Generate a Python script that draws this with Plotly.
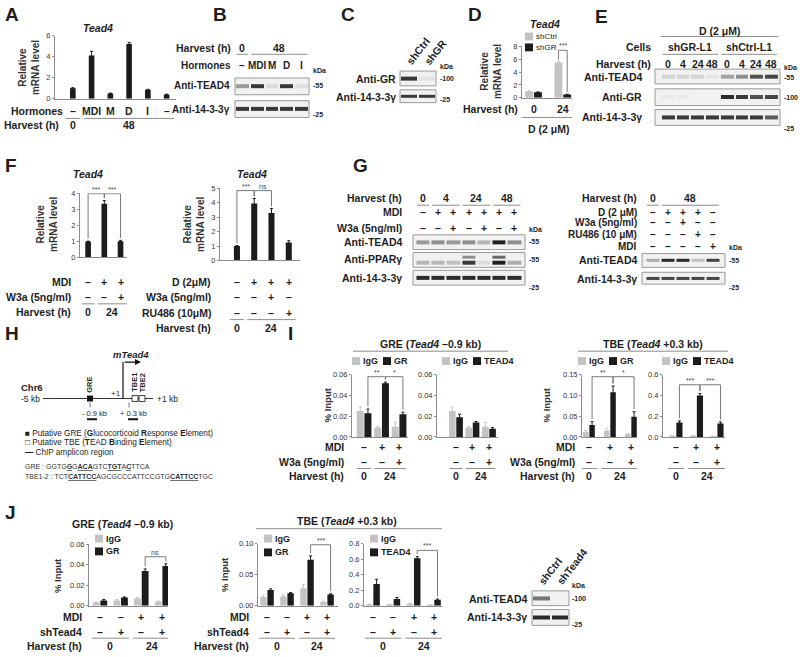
import plotly.graph_objects as go

W, H = 800, 657
FONT = "Arial, Liberation Sans, sans-serif"
INK = "#1e1e1e"
GREY = "#c3c3c3"
BLACK = "#1c1c1c"
AXIS = "#8c8c8c"
BLOT_SCALE = [[0, "#f1f1f1"], [0.45, "#9a9a9a"], [1, "#141414"]]
LBL = 10.5

# ---------------- data ----------------
# A: Tead4 mRNA after hormones
a_hormones = ["–", "MDI", "M", "D", "I", "–"]
a_harvest = ["0", "48", "48", "48", "48", "48"]
a_tead4 = [1.0, 4.1, 0.5, 5.2, 0.85, 0.4]
a_tead4_err = [0.05, 0.4, 0.03, 0.15, 0.04, 0.03]

# B: blot
b_harvest = ["0", "48", "48", "48", "48"]
b_hormones = ["–", "MDI", "M", "D", "I"]
b_tead4 = [0.45, 0.85, 0.12, 0.85, 0.1]
b_1433 = [0.85, 0.85, 0.85, 0.85, 0.85]

# C: blot
c_lanes = ["shCtrl", "shGR"]
c_gr = [0.85, 0.08]
c_1433 = [0.85, 0.85]

# D: Tead4 mRNA shCtrl / shGR
d_harvest = ["0", "24"]
d_treat = ["D (2 μM)", "D (2 μM)"]
d_shctrl = [1.0, 5.5]
d_shctrl_err = [0.08, 0.12]
d_shgr = [0.85, 0.5]
d_shgr_err = [0.05, 0.04]

# E: blot
e_cells = ["shGR-L1"] * 4 + ["shCtrl-L1"] * 4
e_harvest = ["0", "4", "24", "48", "0", "4", "24", "48"]
e_tead4 = [0.15, 0.15, 0.15, 0.06, 0.4, 0.5, 0.75, 0.8]
e_gr = [0.04, 0.04, 0.0, 0.0, 0.9, 0.85, 0.75, 0.8]
e_1433 = [0.85, 0.85, 0.85, 0.85, 0.85, 0.85, 0.85, 0.7]

# F
f1_mdi = ["–", "+", "+"]
f1_w3a = ["–", "–", "+"]
f1_harvest = ["0", "24", "24"]
f1_tead4 = [1.0, 3.35, 1.02]
f1_tead4_err = [0.02, 0.2, 0.05]
f1_sig = [(0, 1, "***"), (1, 2, "***")]
f2_d = ["–", "+", "+", "+"]
f2_w3a = ["–", "–", "+", "–"]
f2_ru486 = ["–", "–", "–", "+"]
f2_harvest = ["0", "24", "24", "24"]
f2_tead4 = [1.0, 3.95, 3.3, 1.25]
f2_tead4_err = [0.03, 0.35, 0.3, 0.12]
f2_sig = [(0, 1, "***"), (1, 2, "ns")]

# G
g1_harvest = ["0", "4", "4", "24", "24", "48", "48"]
g1_mdi = ["–", "+", "+", "+", "+", "+", "+"]
g1_w3a = ["–", "–", "+", "–", "+", "–", "+"]
g1_tead4 = [0.45, 0.5, 0.45, 0.5, 0.3, 0.95, 0.5]
g1_ppar = [0.3, 0.3, 0.25, 0.85, 0.1, 0.95, 0.35]
g1_ppar_upper = [0.0, 0.0, 0.0, 0.5, 0.0, 0.65, 0.0]
g1_1433 = [0.9, 0.9, 0.9, 0.9, 0.9, 0.9, 0.9]
g2_harvest = ["0", "48", "48", "48", "48"]
g2_d = ["–", "+", "+", "+", "–"]
g2_w3a = ["–", "–", "+", "–", "–"]
g2_ru486 = ["–", "–", "–", "+", "–"]
g2_mdi = ["–", "–", "–", "–", "+"]
g2_tead4 = [0.35, 0.9, 0.9, 0.25, 0.8]
g2_1433 = [0.8, 0.8, 0.8, 0.8, 0.8]

# I: ChIP
i_mdi = ["–", "+", "+"]
i_w3a = ["–", "–", "+"]
i_harvest = ["0", "24", "24"]
i_gre_igg = [0.025, 0.009, 0.010]
i_gre_igg_err = [0.004, 0.001, 0.004]
i_gre_gr = [0.023, 0.052, 0.022]
i_gre_gr_err = [0.004, 0.001, 0.002]
i_gre_igg2 = [0.025, 0.009, 0.010]
i_gre_igg2_err = [0.004, 0.001, 0.004]
i_gre_tead4 = [0.019, 0.014, 0.008]
i_gre_tead4_err = [0.003, 0.001, 0.001]
i_tbe_igg = [0.012, 0.015, 0.007]
i_tbe_igg_err = [0.003, 0.006, 0.001]
i_tbe_gr = [0.029, 0.108, 0.049]
i_tbe_gr_err = [0.008, 0.015, 0.012]
i_tbe_igg2 = [0.008, 0.010, 0.004]
i_tbe_igg2_err = [0.002, 0.003, 0.001]
i_tbe_tead4 = [0.14, 0.40, 0.13]
i_tbe_tead4_err = [0.015, 0.02, 0.015]
i_gr_sig = [(0, 1, "**"), (1, 2, "*")]
i_tead4_sig = [(0, 1, "***"), (1, 2, "***")]

# J: ChIP with shTead4
j_mdi = ["–", "–", "+", "+"]
j_sh = ["–", "+", "–", "+"]
j_harvest = ["0", "0", "24", "24"]
j_gre_igg = [0.003, 0.005, 0.007, 0.004]
j_gre_igg_err = [0.0005, 0.001, 0.001, 0.0005]
j_gre_gr = [0.005, 0.008, 0.034, 0.039]
j_gre_gr_err = [0.001, 0.0005, 0.002, 0.002]
j_tbe_igg = [0.014, 0.015, 0.028, 0.006]
j_tbe_igg_err = [0.003, 0.002, 0.006, 0.001]
j_tbe_gr = [0.025, 0.020, 0.074, 0.018]
j_tbe_gr_err = [0.002, 0.001, 0.006, 0.001]
j_tbe_igg2 = [0.015, 0.015, 0.025, 0.005]
j_tbe_igg2_err = [0.004, 0.003, 0.006, 0.001]
j_tbe_tead4 = [0.28, 0.085, 0.61, 0.075]
j_tbe_tead4_err = [0.06, 0.02, 0.02, 0.01]
j_gre_sig = [(2, 3, "ns")]
j_tbe_sig = [(2, 3, "***")]
j_lanes = ["shCtrl", "shTead4"]
j_tead4 = [0.6, 0.0]
j_1433 = [0.9, 0.9]

# ---------------- helpers ----------------
fig = go.Figure()
lay = {}
notes = []
shapes = []


def X(p):
    return p / W


def Y(p):
    return 1 - p / H


def ref(n):
    return ("x" if n == 1 else f"x{n}"), ("y" if n == 1 else f"y{n}")


def keys(n):
    s = "" if n == 1 else str(n)
    return "xaxis" + s, "yaxis" + s


def text(x, y, s, size=LBL, anchor="center", color=INK, angle=0, xref="paper", yanchor="middle"):
    notes.append(dict(
        x=X(x) if xref == "paper" else x, xref=xref, y=Y(y), yref="paper",
        text=s, showarrow=False, textangle=angle, borderpad=0,
        font=dict(family=FONT, size=size, color=color),
        xanchor=anchor, yanchor=yanchor,
    ))


def pline(x0, y0, x1, y1, color=INK, width=1):
    shapes.append(dict(type="line", xref="paper", yref="paper",
                       x0=X(x0), x1=X(x1), y0=Y(y0), y1=Y(y1),
                       line=dict(color=color, width=width)))


def prect(x0, y0, x1, y1, fill, line="rgba(0,0,0,0)", width=0, layer="above"):
    shapes.append(dict(type="rect", xref="paper", yref="paper", layer=layer,
                       x0=X(x0), x1=X(x1), y0=Y(y1), y1=Y(y0),
                       fillcolor=fill, line=dict(color=line, width=width)))


def groups(labels):
    out, start = [], 0
    for i in range(1, len(labels) + 1):
        if i == len(labels) or labels[i] != labels[start]:
            out.append((labels[start], start, i - 1))
            start = i
    return out


def row(n, right, y, label, values, size=LBL):
    xa, _ = ref(n)
    if label:
        text(right, y, f"<b>{label}</b>", anchor="right", size=size)
    for i, v in enumerate(values):
        text(i, y, f"<b>{v}</b>", xref=xa, size=size)


def grouped(n, right, y, label, labels, line_y, pad=0.4, size=LBL):
    xa, _ = ref(n)
    if label:
        text(right, y, f"<b>{label}</b>", anchor="right", size=size)
    for name, s, e in groups(labels):
        text((s + e) / 2, y, f"<b>{name}</b>", xref=xa, size=size)
        shapes.append(dict(type="line", xref=xa, yref="paper", x0=s - pad, x1=e + pad,
                           y0=Y(line_y), y1=Y(line_y), line=dict(color=AXIS, width=1)))


def bar_axes(n, box, xr, yr, dtick, fmt=""):
    x0, x1, ytop, ybot = box
    kx, ky = keys(n)
    xa, ya = ref(n)
    lay[kx] = dict(domain=[X(x0), X(x1)], range=xr, anchor=ya, showline=True,
                   linecolor=AXIS, linewidth=1, showticklabels=False, ticks="",
                   showgrid=False, zeroline=False, fixedrange=True)
    lay[ky] = dict(domain=[Y(ybot), Y(ytop)], range=yr, anchor=xa, showline=True,
                   linecolor=AXIS, linewidth=1, ticks="outside", ticklen=2,
                   tickcolor=AXIS, dtick=dtick, tick0=0, tickformat=fmt,
                   tickfont=dict(family=FONT, size=7.5, color="#333"),
                   showgrid=False, zeroline=False, fixedrange=True)


def bars(n, values, errors, color, width, offset):
    xa, ya = ref(n)
    fig.add_trace(go.Bar(
        x=list(range(len(values))), y=values, width=width, offset=offset,
        marker=dict(color=color, line=dict(width=0)),
        error_y=dict(type="data", array=errors, color=color, thickness=1, width=1.5),
        xaxis=xa, yaxis=ya, showlegend=False, hoverinfo="skip",
    ))


def bracket(n, x0, x1, top, foot0, foot1, label):
    xa, ya = ref(n)
    shapes.append(dict(type="path", xref=xa, yref=ya,
                       path=f"M {x0},{foot0} L {x0},{top} L {x1},{top} L {x1},{foot1}",
                       line=dict(color="#7a7a7a", width=1)))
    notes.append(dict(x=(x0 + x1) / 2, y=top, xref=xa, yref=ya, text=label,
                      showarrow=False, yanchor="bottom", borderpad=0,
                      font=dict(family=FONT, size=7, color="#444")))


def sig(n, pairs, values, errors, shift, top, gap):
    for i, j, lab in pairs:
        bracket(n, i + shift, j + shift, top,
                values[i] + errors[i] + gap, values[j] + errors[j] + gap, lab)


def pair_chart(n, box, xr, yr, dtick, fmt, igg, igg_err, ab, ab_err, width, pairs=None, top=0.97):
    bar_axes(n, box, xr, yr, dtick, fmt)
    bars(n, igg, igg_err, GREY, width, -width - 0.02)
    bars(n, ab, ab_err, BLACK, width, 0.02)
    if pairs:
        sig(n, pairs, ab, ab_err, 0.02 + width / 2, yr[1] * top, yr[1] * 0.04)


def blot(n, box, z, xr, yr=(-1.3, 1.3)):
    x0, x1, y0, y1 = box
    kx, ky = keys(n)
    xa, ya = ref(n)
    lay[kx] = dict(domain=[X(x0), X(x1)], range=xr, visible=False, fixedrange=True)
    lay[ky] = dict(domain=[Y(y1), Y(y0)], range=list(yr), visible=False, fixedrange=True)
    prect(x0, y0, x1, y1, "#f1f1f1", "#9a9a9a", 1, layer="below")
    fig.add_trace(go.Heatmap(
        z=z, x=list(range(len(z[0]))), y=list(range(len(z))), zmin=0, zmax=1,
        colorscale=BLOT_SCALE, showscale=False, xgap=2, ygap=2,
        xaxis=xa, yaxis=ya, hoverinfo="skip",
    ))


def key(x, y, color, label, size=9, bold=True):
    prect(x, y - 4, x + 8, y + 4, color)
    t = f"<b>{label}</b>" if bold else label
    text(x + 10, y, t, size=size, anchor="left")


def letter(x, y, s):
    text(x, y, f"<b>{s}</b>", size=19, anchor="left")


def small(x, y, s):
    text(x, y, f"<b>{s}</b>", size=7, anchor="left")


def ytitle(x, y, s, size=10):
    text(x, y, f"<b>{s}</b>", size=size, angle=-90, color="#333")


# ---------------- A ----------------
letter(4, 11, "A")
text(98, 24, "<b><i>Tead4</i></b>")
bar_axes(1, (55, 176, 32, 96), [-0.95, 5.5], [0, 6], 2)
bars(1, a_tead4, a_tead4_err, BLACK, 0.3, -0.15)
ytitle(29, 64, "Relative<br>mRNA level")
row(1, 64, 108, "Hormones", a_hormones)
grouped(1, 60, 123, "Harvest (h)", a_harvest, 116)

# ---------------- B ----------------
letter(212, 11, "B")
blot(2, (235, 309, 75, 92), [b_tead4], [-0.5, 4.5])
blot(3, (235, 309, 98, 115), [b_1433], [-0.5, 4.5])
grouped(2, 232, 45, "Harvest (h)", b_harvest, 51)
row(2, 232, 62, "Hormones", b_hormones, size=10)
text(231, 83, "<b>Anti-TEAD4</b>", anchor="right", size=10)
text(231, 107, "<b>Anti-14-3-3γ</b>", anchor="right", size=10)
small(312, 67, "kDa")
small(312, 83, "-55")
small(312, 112, "-25")

# ---------------- C ----------------
letter(340, 11, "C")
blot(4, (400, 436, 68, 83), [c_gr], [-0.5, 1.5])
blot(5, (400, 436, 87, 100), [c_1433], [-0.5, 1.5])
for i, name in enumerate(c_lanes):
    text(i - 0.35, 65, f"<b>{name}</b>", xref="x4", angle=-52, anchor="left", yanchor="bottom")
text(397, 76, "<b>Anti-GR</b>", anchor="right")
text(397, 94, "<b>Anti-14-3-3γ</b>", anchor="right")
small(439, 63, "kDa")
small(439, 76, "-100")
small(439, 97, "-25")

# ---------------- D ----------------
letter(467, 11, "D")
text(545, 20, "<b><i>Tead4</i></b>")
bar_axes(6, (522, 572, 43, 95), [-0.41, 1.3], [0, 8], 2)
bars(6, d_shctrl, d_shctrl_err, GREY, 0.27, -0.3)
bars(6, d_shgr, d_shgr_err, BLACK, 0.27, 0.0)
bracket(6, 1 - 0.165, 1 + 0.135, 7.4,
        d_shctrl[1] + d_shctrl_err[1] + 0.3, d_shgr[1] + d_shgr_err[1] + 0.3, "***")
key(525, 33, GREY, "shCtrl", size=8, bold=False)
key(525, 44, BLACK, "shGR", size=8, bold=False)
ytitle(491, 69, "Relative<br>mRNA level")
row(6, 519, 106, "Harvest (h)", d_harvest)
grouped(6, 519, 127, "", d_treat, 115, pad=0.55)

# ---------------- E ----------------
letter(594, 13, "E")
e_xr = [-0.9, 7.6]
blot(7, (655, 780, 66, 81), [e_tead4], e_xr)
blot(8, (655, 780, 86, 103), [e_gr], e_xr)
blot(9, (655, 780, 107, 123), [e_1433], e_xr)
grouped(7, 652, 27, "", ["D (2 μM)"] * len(e_cells), 33, pad=0.5)
grouped(7, 652, 44, "Cells", e_cells, 51)
row(7, 652, 61, "Harvest (h)", e_harvest)
text(643, 74, "<b>Anti-TEAD4</b>", anchor="right")
text(643, 94, "<b>Anti-GR</b>", anchor="right")
text(643, 115, "<b>Anti-14-3-3γ</b>", anchor="right")
small(783, 64, "kDa")
small(783, 75, "-55")
small(783, 95, "-100")
small(783, 126, "-25")

# ---------------- F ----------------
letter(4, 164, "F")
text(88, 172, "<b><i>Tead4</i></b>")
bar_axes(10, (80, 127, 192, 257), [-0.5, 2.4], [0, 4], 1)
bars(10, f1_tead4, f1_tead4_err, BLACK, 0.35, -0.175)
sig(10, f1_sig, f1_tead4, f1_tead4_err, 0, 3.98, 0.15)
ytitle(47, 224, "Relative<br>mRNA level")
row(10, 72, 282, "MDI", f1_mdi)
row(10, 72, 297, "W3a (5ng/ml)", f1_w3a)
grouped(10, 72, 312, "Harvest (h)", f1_harvest, 304)

text(252, 172, "<b><i>Tead4</i></b>")
bar_axes(11, (220, 300, 187, 260), [-0.98, 3.65], [0, 5], 1)
bars(11, f2_tead4, f2_tead4_err, BLACK, 0.35, -0.175)
sig(11, f2_sig, f2_tead4, f2_tead4_err, 0, 4.85, 0.15)
ytitle(194, 224, "Relative<br>mRNA level")
row(11, 212, 282, "D (2μM)", f2_d)
row(11, 212, 297, "W3a (5ng/ml)", f2_w3a)
row(11, 212, 313, "RU486 (10μM)", f2_ru486)
grouped(11, 212, 329, "Harvest (h)", f2_harvest, 320)

# ---------------- G ----------------
letter(352, 164, "G")
g1_xr = [-0.66, 6.7]
blot(12, (413, 525, 234, 249), [g1_tead4], g1_xr)
blot(13, (413, 525, 252, 267), [g1_ppar, g1_ppar_upper], g1_xr, yr=(-0.9, 1.9))
blot(14, (413, 525, 270, 285), [g1_1433], g1_xr)
grouped(12, 403, 197, "Harvest (h)", g1_harvest, 204)
row(12, 403, 211, "MDI", g1_mdi)
row(12, 403, 227, "W3a (5ng/ml)", g1_w3a)
text(403, 241, "<b>Anti-TEAD4</b>", anchor="right")
text(403, 259, "<b>Anti-PPARγ</b>", anchor="right")
text(403, 278, "<b>Anti-14-3-3γ</b>", anchor="right")
small(528, 229, "kDa")
small(528, 241, "-55")
small(528, 259, "-55")
small(528, 287, "-25")

g2_xr = [-0.73, 4.8]
blot(15, (642, 725, 253, 267), [g2_tead4], g2_xr)
blot(16, (642, 725, 272, 284), [g2_1433], g2_xr)
grouped(15, 638, 197, "Harvest (h)", g2_harvest, 204)
row(15, 638, 211, "D (2 μM)", g2_d, size=10)
row(15, 638, 222, "W3a (5ng/ml)", g2_w3a, size=10)
row(15, 638, 234, "RU486 (10 μM)", g2_ru486, size=10)
row(15, 638, 246, "MDI", g2_mdi, size=10)
text(638, 260, "<b>Anti-TEAD4</b>", anchor="right")
text(638, 279, "<b>Anti-14-3-3γ</b>", anchor="right")
small(728, 247, "kDa")
small(728, 260, "-55")
small(728, 287, "-25")

# ---------------- H (promoter diagram) ----------------
letter(4, 334, "H")
text(20, 389, "<b>Chr6</b>", size=9.5, anchor="left")
text(20, 400, "-5 kb", size=8.5, anchor="left")
pline(43, 400, 153, 400, "#333")
text(156, 400, "+1 kb", size=8.5, anchor="left")
prect(87, 397, 93, 403, "#111")
text(90, 386, "<b>GRE</b>", size=7.5, angle=-90)
pline(123, 400, 123, 363, "#111", 1.2)
notes.append(dict(x=X(141), y=Y(363), xref="paper", yref="paper", text="",
                  showarrow=True, ax=-18, ay=0, arrowhead=2, arrowsize=1,
                  arrowwidth=1.2, arrowcolor="#111"))
text(131, 355, "<b><i>mTead4</i></b>", size=9.5)
text(116, 395, "+1", size=8)
prect(132, 397, 138, 403, "white", "#111", 0.8)
prect(139, 397, 145, 403, "white", "#111", 0.8)
text(135, 384, "<b>TBE1</b>", size=7.5, angle=-90)
text(142.5, 384, "<b>TBE2</b>", size=7.5, angle=-90)
pline(90, 404, 90, 409, "#777")
pline(129, 404, 129, 409, "#777")
text(94, 415, "- 0.9 kb", size=7.5)
text(133, 415, "+ 0.3 kb", size=7.5)
pline(87, 421, 97, 421, "#111", 2)
pline(128, 421, 138, 421, "#111", 2)
text(24, 435, "■ Putative GRE (<b>G</b>lucocorticoid <b>R</b>esponse <b>E</b>lement)", size=8.2, anchor="left")
text(24, 445, "□ Putative TBE (<b>T</b>EAD <b>B</b>inding <b>E</b>lement)", size=8.2, anchor="left")
text(24, 455, "<b>—</b> ChIP amplicon region", size=8.2, anchor="left")
text(24, 469, "GRE : GGTG<b><u>G</u></b>G<b><u>ACA</u></b>GTC<b><u>TGT</u></b>A<b><u>C</u></b>TTCA",
     size=7, anchor="left", color="#333")
text(24, 479, "TBE1-2 : TCT<b><u>CATTCC</u></b>AGCGCCCATTCCGTG<b><u>CATTCC</u></b>TGC",
     size=7, anchor="left", color="#333")

# ---------------- I (ChIP) ----------------
letter(287, 334, "I")
text(430, 345, "<b>GRE (<i>Tead4</i> –0.9 kb)</b>")
pline(353, 352, 508, 352, AXIS)
pair_chart(17, (352, 408, 376, 439), [-0.69, 2.51], [0, 0.06], 0.02, ".2f",
           i_gre_igg, i_gre_igg_err, i_gre_gr, i_gre_gr_err, 0.4, i_gr_sig)
pair_chart(18, (437, 498, 376, 439), [-1.15, 2.55], [0, 0.06], 0.02, ".2f",
           i_gre_igg2, i_gre_igg2_err, i_gre_tead4, i_gre_tead4_err, 0.4)
key(352, 362, GREY, "IgG")
key(383, 362, BLACK, "GR")
key(442, 362, GREY, "IgG")
key(473, 362, BLACK, "TEAD4")
ytitle(327, 407, "% Input", size=9.5)
for n, lab in ((17, True), (18, False)):
    row(n, 345, 449, "MDI" if lab else "", i_mdi)
    row(n, 345, 464, "W3a (5ng/ml)" if lab else "", i_w3a)
    grouped(n, 345, 479, "Harvest (h)" if lab else "", i_harvest, 471)

text(653, 345, "<b>TBE (<i>Tead4</i> +0.3 kb)</b>")
pline(578, 352, 728, 352, AXIS)
pair_chart(19, (582, 637, 376, 439), [-0.33, 2.29], [0, 0.15], 0.05, ".2f",
           i_tbe_igg, i_tbe_igg_err, i_tbe_gr, i_tbe_gr_err, 0.26, i_gr_sig)
pair_chart(20, (663, 725, 376, 439), [-0.63, 2.39], [0, 0.6], 0.2, ".1f",
           i_tbe_igg2, i_tbe_igg2_err, i_tbe_tead4, i_tbe_tead4_err, 0.3, i_tead4_sig, top=0.84)
key(578, 362, GREY, "IgG")
key(609, 362, BLACK, "GR")
key(662, 362, GREY, "IgG")
key(693, 362, BLACK, "TEAD4")
ytitle(546, 407, "% Input", size=9.5)
for n, lab in ((19, True), (20, False)):
    row(n, 576, 449, "MDI" if lab else "", i_mdi)
    row(n, 576, 464, "W3a (5ng/ml)" if lab else "", i_w3a)
    grouped(n, 576, 479, "Harvest (h)" if lab else "", i_harvest, 471)

# ---------------- J ----------------
letter(4, 516, "J")
text(122, 527, "<b>GRE (<i>Tead4</i> –0.9 kb)</b>")
pair_chart(21, (89, 168, 548, 610), [-0.53, 3.29], [0, 0.06], 0.02, ".2f",
           j_gre_igg, j_gre_igg_err, j_gre_gr, j_gre_gr_err, 0.33, j_gre_sig, top=0.8)
key(95, 542, GREY, "IgG")
key(95, 555, BLACK, "GR")
ytitle(57, 579, "% Input", size=9.5)
row(21, 83, 622, "MDI", j_mdi)
row(21, 83, 637, "shTead4", j_sh)
grouped(21, 83, 651, "Harvest (h)", j_harvest, 643)

text(347, 524, "<b>TBE (<i>Tead4</i> +0.3 kb)</b>")
pline(256, 532, 442, 532, AXIS)
pair_chart(22, (258, 338, 547, 610), [-0.45, 3.55], [0, 0.10], 0.05, ".2f",
           j_tbe_igg, j_tbe_igg_err, j_tbe_gr, j_tbe_gr_err, 0.32, j_tbe_sig, top=0.98)
key(264, 542, GREY, "IgG")
key(264, 556, BLACK, "GR")
ytitle(224, 579, "% Input", size=9.5)
pair_chart(23, (364, 442, 547, 610), [-0.44, 3.4], [0, 0.8], 0.2, ".1f",
           j_tbe_igg2, j_tbe_igg2_err, j_tbe_tead4, j_tbe_tead4_err, 0.32, j_tbe_sig, top=0.89)
key(370, 542, GREY, "IgG")
key(370, 556, BLACK, "TEAD4")
for n, lab in ((22, True), (23, False)):
    row(n, 250, 622, "MDI" if lab else "", j_mdi)
    row(n, 250, 637, "shTead4" if lab else "", j_sh)
    grouped(n, 250, 651, "Harvest (h)" if lab else "", j_harvest, 643)

blot(24, (532, 569, 595, 610), [j_tead4], [-0.5, 1.5])
blot(25, (532, 569, 614, 630), [j_1433], [-0.5, 1.5])
for i, name in enumerate(j_lanes):
    text(i - 0.35, 592, f"<b>{name}</b>", xref="x24", angle=-52, anchor="left", yanchor="bottom")
text(528, 603, "<b>Anti-TEAD4</b>", anchor="right")
text(528, 622, "<b>Anti-14-3-3γ</b>", anchor="right")
small(571, 590, "kDa")
small(571, 603, "-100")
small(571, 629, "-25")

lay.update(
    width=W, height=H, margin=dict(l=0, r=0, t=0, b=0),
    paper_bgcolor="white", plot_bgcolor="white",
    font=dict(family=FONT, color=INK),
    showlegend=False, annotations=notes, shapes=shapes,
)
fig.update_layout(**lay)
fig.write_html("out.html", config={"displayModeBar": False},
               post_script="document.body.style.margin='0px';")
